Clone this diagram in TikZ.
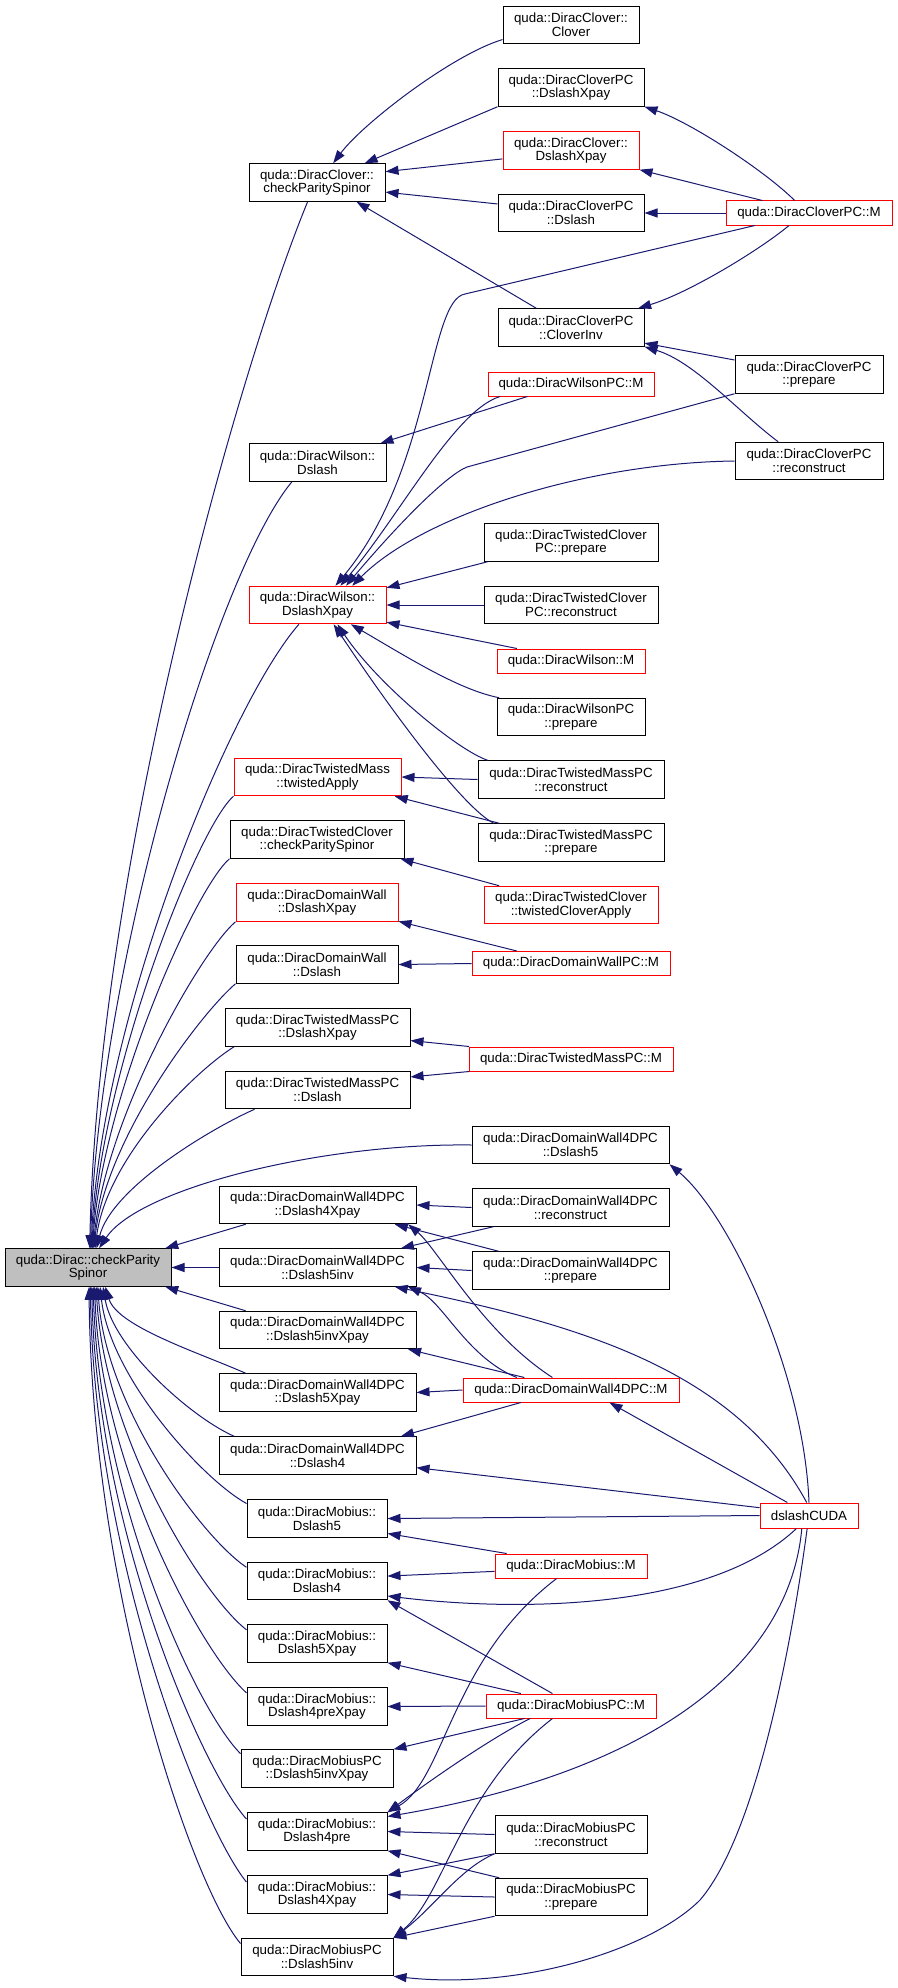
\documentclass[tikz,border=0pt]{standalone}
\usepackage{fontspec}
\newfontfamily\dotfont{Liberation Sans}
\usetikzlibrary{arrows.meta}
\definecolor{edgeblue}{HTML}{191970}
\definecolor{rootgray}{HTML}{BFBFBF}
\tikzset{
    box/.style={draw=black, line width=1pt, fill=white, inner sep=0pt, align=center,
        minimum height=37.5, font={\dotfont\fontsize{13.3}{13.7}\selectfont}},
    redbox/.style={box, draw=red},
    rootbox/.style={box, fill=rootgray},
    oneline/.style={minimum height=24},
    caller/.style={draw=edgeblue, line width=1pt, >={Triangle[length=13pt,width=9pt]}, <-},
}
\begin{document}
\begin{tikzpicture}[x=1pt, y=-1pt]
            \useasboundingbox (0,0) rectangle (897,1988);

            \node[rootbox, minimum width=166] (root) at (88,1267.5) {quda::Dirac::checkParity\\Spinor};

            \node[box, minimum width=136] (cloverCheck) at (317,182.5) {quda::DiracClover::\\checkParitySpinor};
            \node[box, minimum width=137] (wilsonDslash) at (317.5,462.5) {quda::DiracWilson::\\Dslash};
            \node[redbox, minimum width=137] (wilsonXpay) at (317.5,605) {quda::DiracWilson::\\DslashXpay};
            \node[redbox, minimum width=167] (tmApply) at (317.5,777) {quda::DiracTwistedMass\\::twistedApply};
            \node[box, minimum width=174] (tcCheck) at (317,839.5) {quda::DiracTwistedClover\\::checkParitySpinor};
            \node[redbox, minimum width=162] (dwXpay) at (317,902.5) {quda::DiracDomainWall\\::DslashXpay};
            \node[box, minimum width=162] (dwDslash) at (317,964.5) {quda::DiracDomainWall\\::Dslash};
            \node[box, minimum width=185] (tmpcXpay) at (317.5,1027.5) {quda::DiracTwistedMassPC\\::DslashXpay};
            \node[box, minimum width=185] (tmpcDslash) at (317.5,1090) {quda::DiracTwistedMassPC\\::Dslash};
            \node[box, minimum width=197] (dw4Xpay4) at (317.5,1205) {quda::DiracDomainWall4DPC\\::Dslash4Xpay};
            \node[box, minimum width=197] (dw4inv) at (317.5,1267.5) {quda::DiracDomainWall4DPC\\::Dslash5inv};
            \node[box, minimum width=197] (dw4invXpay) at (317.5,1330) {quda::DiracDomainWall4DPC\\::Dslash5invXpay};
            \node[box, minimum width=197] (dw4Xpay5) at (317.5,1392.5) {quda::DiracDomainWall4DPC\\::Dslash5Xpay};
            \node[box, minimum width=197] (dw4D4) at (317.5,1455.5) {quda::DiracDomainWall4DPC\\::Dslash4};
            \node[box, minimum width=140] (mobD5) at (317,1518.5) {quda::DiracMobius::\\Dslash5};
            \node[box, minimum width=140] (mobD4) at (317,1581) {quda::DiracMobius::\\Dslash4};
            \node[box, minimum width=140] (mobD5Xpay) at (317,1643.5) {quda::DiracMobius::\\Dslash5Xpay};
            \node[box, minimum width=140] (mobD4preXpay) at (317,1706.5) {quda::DiracMobius::\\Dslash4preXpay};
            \node[box, minimum width=152] (mobpcInvXpay) at (317,1768.5) {quda::DiracMobiusPC\\::Dslash5invXpay};
            \node[box, minimum width=140] (mobD4pre) at (317,1831.5) {quda::DiracMobius::\\Dslash4pre};
            \node[box, minimum width=140] (mobD4Xpay) at (317,1894.5) {quda::DiracMobius::\\Dslash4Xpay};
            \node[box, minimum width=152] (mobpcInv) at (317,1957) {quda::DiracMobiusPC\\::Dslash5inv};

            \node[box, minimum width=136] (cloverClover) at (571,25) {quda::DiracClover::\\Clover};
            \node[box, minimum width=146] (cpcXpay) at (571,87.5) {quda::DiracCloverPC\\::DslashXpay};
            \node[redbox, minimum width=136] (cloverXpay) at (571,150.5) {quda::DiracClover::\\DslashXpay};
            \node[box, minimum width=146] (cpcDslash) at (571,213) {quda::DiracCloverPC\\::Dslash};
            \node[box, minimum width=146] (cpcInv) at (571,327.5) {quda::DiracCloverPC\\::CloverInv};
            \node[redbox, oneline, minimum width=166] (wpcM) at (571,384) {quda::DiracWilsonPC::M};
            \node[box, minimum width=174] (tcpcPrep) at (571,542.5) {quda::DiracTwistedClover\\PC::prepare};
            \node[box, minimum width=174] (tcpcRec) at (571,605) {quda::DiracTwistedClover\\PC::reconstruct};
            \node[redbox, oneline, minimum width=148] (wM) at (571,661) {quda::DiracWilson::M};
            \node[box, minimum width=148] (wpcPrep) at (571,717) {quda::DiracWilsonPC\\::prepare};
            \node[box, minimum width=186] (tmpcRec) at (571,779.5) {quda::DiracTwistedMassPC\\::reconstruct};
            \node[box, minimum width=186] (tmpcPrep) at (571,842.5) {quda::DiracTwistedMassPC\\::prepare};
            \node[redbox, minimum width=174] (tcApply) at (571,905) {quda::DiracTwistedClover\\::twistedCloverApply};
            \node[redbox, oneline, minimum width=198] (dwpcM) at (571,963.5) {quda::DiracDomainWallPC::M};
            \node[redbox, oneline, minimum width=204] (tmpcM) at (571,1059) {quda::DiracTwistedMassPC::M};
            \node[box, minimum width=197] (dw4D5) at (570.5,1145) {quda::DiracDomainWall4DPC\\::Dslash5};
            \node[box, minimum width=197] (dw4Rec) at (570.5,1207.5) {quda::DiracDomainWall4DPC\\::reconstruct};
            \node[box, minimum width=197] (dw4Prep) at (570.5,1270.5) {quda::DiracDomainWall4DPC\\::prepare};
            \node[redbox, oneline, minimum width=216] (dw4M) at (571,1390) {quda::DiracDomainWall4DPC::M};
            \node[redbox, oneline, minimum width=152] (mobM) at (571,1566) {quda::DiracMobius::M};
            \node[redbox, oneline, minimum width=170] (mobpcM) at (571,1706) {quda::DiracMobiusPC::M};
            \node[box, minimum width=152] (mobpcRec) at (571,1834.5) {quda::DiracMobiusPC\\::reconstruct};
            \node[box, minimum width=152] (mobpcPrep) at (571,1897) {quda::DiracMobiusPC\\::prepare};

            \node[redbox, oneline, minimum width=166] (cpcM) at (809,213) {quda::DiracCloverPC::M};
            \node[box, minimum width=148] (cpcPrep) at (809,374.5) {quda::DiracCloverPC\\::prepare};
            \node[box, minimum width=148] (cpcRec) at (809,461) {quda::DiracCloverPC\\::reconstruct};
            \node[redbox, minimum width=98, minimum height=25] (cuda) at (809,1515.5) {dslashCUDA};

            \draw[caller] (root.85) .. controls +(8,-380) and +(-70,170) .. (cloverCheck.-116);
            \draw[caller] (root.83) .. controls +(8,-280) and +(-75,90) .. (wilsonDslash.-143);
            \draw[caller] (root.81) .. controls +(10,-230) and +(-70,80) .. (wilsonXpay.-134);
            \draw[caller] (root.79) .. controls +(10,-180) and +(-35,30) .. (tmApply.south west);
            \draw[caller] (root.77) .. controls +(10,-150) and +(-35,30) .. (tcCheck.south west);
            \draw[caller] (root.75) .. controls +(12,-130) and +(-35,30) .. (dwXpay.south west);
            \draw[caller] (root.73) .. controls +(12,-110) and +(-35,30) .. (dwDslash.south west);
            \draw[caller] (root.70) .. controls +(12,-90) and +(-40,25) .. (tmpcXpay.-167);
            \draw[caller] (root.66) .. controls +(15,-60) and +(-45,20) .. (tmpcDslash.-163);
            \draw[caller] (root.60) .. controls +(40,-60) and +(-150,-2) .. (dw4D5.west);
            \draw[caller] (root.14) -- (dw4Xpay4.-165);
            \draw[caller] (root.east) -- (dw4inv.west);
            \draw[caller] (root.-14) -- (dw4invXpay.165);
            \draw[caller] (root.-48) .. controls +(12,40) and +(-45,-20) .. (dw4Xpay5.165);
            \draw[caller] (root.-52) .. controls +(10,60) and +(-45,-20) .. (dw4D4.167);
            \draw[caller] (root.-58) .. controls +(10,90) and +(-45,-25) .. (mobD5.168);
            \draw[caller] (root.-63) .. controls +(8,120) and +(-45,-30) .. (mobD4.169);
            \draw[caller] (root.-67) .. controls +(8,150) and +(-45,-35) .. (mobD5Xpay.169);
            \draw[caller] (root.-71) .. controls +(6,180) and +(-45,-40) .. (mobD4preXpay.169);
            \draw[caller] (root.-75) .. controls +(6,210) and +(-45,-45) .. (mobpcInvXpay.169);
            \draw[caller] (root.-79) .. controls +(5,240) and +(-45,-50) .. (mobD4pre.170);
            \draw[caller] (root.-83) .. controls +(4,270) and +(-45,-55) .. (mobD4Xpay.170);
            \draw[caller] (root.-87) .. controls +(3,300) and +(-50,-60) .. (mobpcInv.170);

            \draw[caller] (cloverCheck.50) .. controls +(30,-40) and +(-50,15) .. (cloverClover.-168);
            \draw[caller] (cloverCheck.22) -- (cpcXpay.south west);
            \draw[caller] (cloverCheck.9) -- (cloverXpay.-173);
            \draw[caller] (cloverCheck.-8) -- (cpcDslash.173);
            \draw[caller] (cloverCheck.-26) -- (cpcInv.151);

            \draw[caller] (cpcXpay.south east) .. controls +(45,15) and +(-30,-30) .. (cpcM.139);
            \draw[caller] (cloverXpay.south east) -- (cpcM.165);
            \draw[caller] (cpcDslash.east) -- (cpcM.west);
            \draw[caller] (cpcInv.16) .. controls +(50,-15) and +(-30,25) .. (cpcM.-148);
            \draw[caller] (wilsonXpay.47) .. controls (432,470) and (428,300) .. (465,294) -- (cpcM.-167);
            \draw[caller] (cpcInv.-12) -- (cpcPrep.169);
            \draw[caller] (cpcInv.south east) .. controls +(50,15) and +(-40,-30) .. (cpcRec.148);

            \draw[caller] (wilsonDslash.17) -- (wpcM.-164);
            \draw[caller] (wilsonXpay.40) .. controls (400,515) and (455,410) .. (wpcM.-170);
            \draw[caller] (wilsonXpay.34) .. controls +(55,-65) and +(-20,8) .. (467,467) -- (cpcPrep.south west);
            \draw[caller] (wilsonXpay.29) .. controls +(70,-70) and +(-150,2) .. (cpcRec.west);
            \draw[caller] (wilsonXpay.14) -- (tcpcPrep.-167);
            \draw[caller] (wilsonXpay.east) -- (tcpcRec.west);
            \draw[caller] (wilsonXpay.-14) -- (wM.167);
            \draw[caller] (wilsonXpay.-30) .. controls +(60,35) and +(-40,-8) .. (wpcPrep.165);
            \draw[caller] (wilsonXpay.-44) .. controls +(40,60) and +(-30,-10) .. (tmpcRec.167);
            \draw[caller] (wilsonXpay.-50) .. controls +(60,90) and +(-30,-15) .. (tmpcPrep.166);

            \draw[caller] (tmApply.east) -- (tmpcRec.west);
            \draw[caller] (tmApply.-14) -- (tmpcPrep.165);
            \draw[caller] (tcCheck.-13) -- (tcApply.165);
            \draw[caller] (dwXpay.-13) -- (dwpcM.167);
            \draw[caller] (dwDslash.east) -- (dwpcM.west);
            \draw[caller] (tmpcXpay.-8) -- (tmpcM.173);
            \draw[caller] (tmpcDslash.8) -- (tmpcM.-173);

            \draw[caller] (dw4D5.south east) .. controls +(60,50) and +(-5,-130) .. (cuda.north);
            \draw[caller] (dw4Xpay4.east) -- (dw4Rec.west);
            \draw[caller] (dw4Xpay4.-14) -- (dw4Prep.165);
            \draw[caller] (dw4Xpay4.-12) .. controls +(30,25) and +(-70,-45) .. (dw4M.146);
            \draw[caller] (dw4inv.13) -- (dw4Rec.-166);
            \draw[caller] (dw4inv.east) -- (dw4Prep.west);
            \draw[caller] (dw4inv.-12) .. controls +(35,15) and +(-50,-20) .. (dw4M.167);
            \draw[caller] (dw4inv.-14) .. controls (580,1325) and (735,1370) .. (cuda.100);
            \draw[caller] (dw4invXpay.-12) -- (dw4M.165);
            \draw[caller] (dw4Xpay5.east) -- (dw4M.west);
            \draw[caller] (dw4D4.13) -- (dw4M.-166);
            \draw[caller] (dw4D4.-7) -- (cuda.171);
            \draw[caller] (dw4M.-18) -- (cuda.149);

            \draw[caller] (mobD5.east) -- (cuda.west);
            \draw[caller] (mobD5.-12) -- (mobM.169);
            \draw[caller] (mobD4.4) -- (mobM.-176);
            \draw[caller] (mobD4.-12) .. controls (520,1612) and (710,1610) .. (cuda.-134);
            \draw[caller] (mobD4.south east) -- (mobpcM.146);
            \draw[caller] (mobD5Xpay.south east) -- (mobpcM.166);
            \draw[caller] (mobD4preXpay.east) -- (mobpcM.west);
            \draw[caller] (mobpcInvXpay.north east) -- (mobpcM.-165);
            \draw[caller] (mobD4pre.north east) .. controls +(40,-30) and +(-40,20) .. (mobpcM.-163);
            \draw[caller] (mobD4pre.north east) .. controls (445,1780) and (450,1660) .. (mobM.-139);
            \draw[caller] (mobD4pre.12) .. controls (660,1770) and (790,1660) .. (cuda.-119);
            \draw[caller] (mobD4pre.east) -- (mobpcRec.west);
            \draw[caller] (mobD4pre.south east) -- (mobpcPrep.165);
            \draw[caller] (mobD4Xpay.north east) -- (mobpcRec.south west);
            \draw[caller] (mobD4Xpay.east) -- (mobpcPrep.west);
            \draw[caller] (mobpcInv.north east) .. controls +(40,-30) and +(-35,15) .. (mobpcRec.south west);
            \draw[caller] (mobpcInv.north east) -- (mobpcPrep.south west);
            \draw[caller] (mobpcInv.north east) .. controls (445,1895) and (460,1790) .. (mobpcM.-146);
            \draw[caller] (mobpcInv.south east) .. controls (520,1990) and (650,1950) .. (700,1900) .. controls (760,1830) and (795,1620) .. (cuda.-98);

        \end{tikzpicture}
\end{document}
